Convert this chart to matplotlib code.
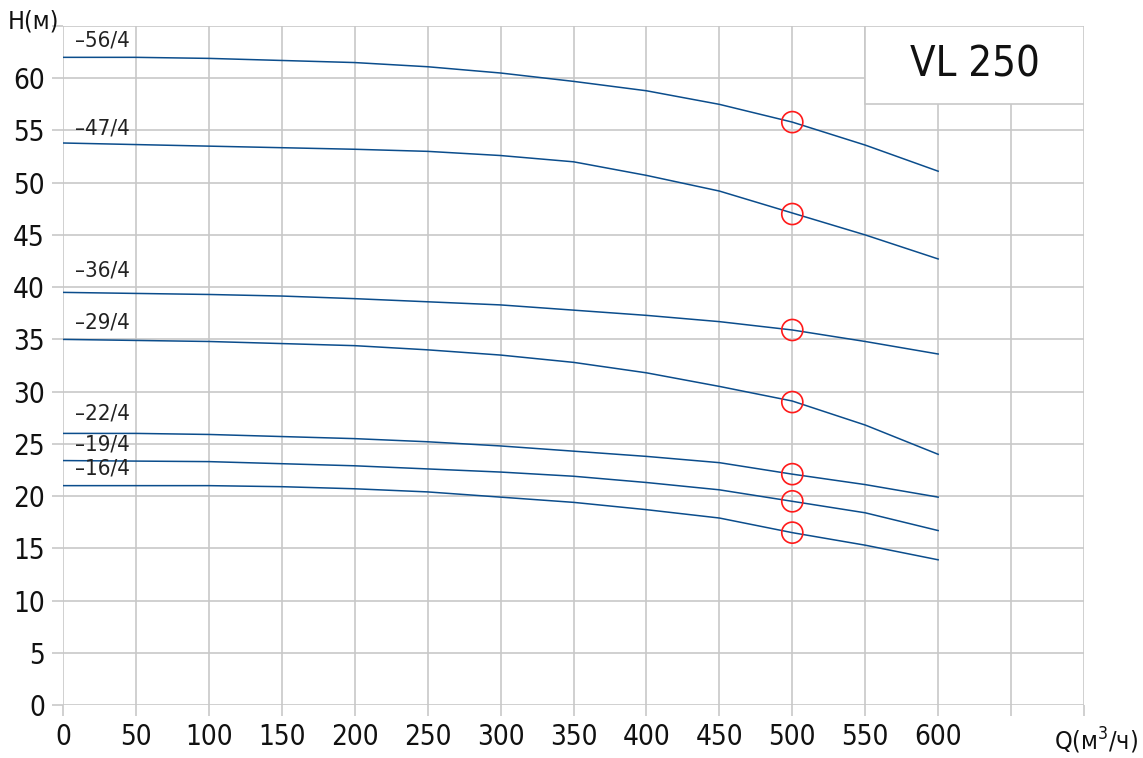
import matplotlib.pyplot as plt
from matplotlib.patches import Rectangle

plt.rcParams['font.family'] = ['DejaVu Sans']
plt.rcParams['font.stretch'] = 'condensed'
plt.rcParams['font.weight'] = 'light'

# flow, m3/h
q = [0, 50, 100, 150, 200, 250, 300, 350, 400, 450, 500, 550, 600]

# head curves, m
h_56 = [62.0, 62.0, 61.9, 61.7, 61.5, 61.1, 60.5, 59.7, 58.8, 57.5, 55.8, 53.6, 51.1]
h_47 = [53.8, 53.65, 53.5, 53.35, 53.2, 53.0, 52.6, 52.0, 50.7, 49.2, 47.1, 45.0, 42.7]
h_36 = [39.5, 39.4, 39.3, 39.15, 38.9, 38.6, 38.3, 37.8, 37.3, 36.7, 35.9, 34.8, 33.6]
h_29 = [35.0, 34.9, 34.8, 34.6, 34.4, 34.0, 33.5, 32.8, 31.8, 30.5, 29.1, 26.8, 24.0]
h_22 = [26.0, 26.0, 25.9, 25.7, 25.5, 25.2, 24.8, 24.3, 23.8, 23.2, 22.1, 21.1, 19.9]
h_19 = [23.4, 23.35, 23.3, 23.1, 22.9, 22.6, 22.3, 21.9, 21.3, 20.6, 19.5, 18.4, 16.7]
h_16 = [21.0, 21.0, 21.0, 20.9, 20.7, 20.4, 19.9, 19.4, 18.7, 17.9, 16.5, 15.3, 13.9]

curves = [h_56, h_47, h_36, h_29, h_22, h_19, h_16]
names = ['–56/4', '–47/4', '–36/4', '–29/4', '–22/4', '–19/4', '–16/4']
label_y = [63.6, 55.2, 41.6, 36.6, 27.9, 24.9, 22.6]

# duty points at Q = 500
duty_q = 500
duty_h = [55.8, 47.0, 35.9, 29.0, 22.1, 19.5, 16.5]

grid_c = '#c8c8c8'
line_c = '#0b4d8c'

fig = plt.figure(figsize=(11.43, 7.58), dpi=100)
ax = fig.add_axes([0.0551, 0.0699, 0.8933, 0.8958])

for h in curves:
    ax.plot(q, h, color=line_c, lw=1.1, zorder=3)

for name, y in zip(names, label_y):
    ax.text(8, y, name, fontsize=16, va='center', ha='left', color='#222222', zorder=4)

ax.scatter([duty_q] * len(duty_h), duty_h, s=230, facecolors='none',
           edgecolors='#ff1a1a', linewidths=1.2, zorder=5)

ax.set_xlim(0, 700)
ax.set_ylim(0, 65)
ax.set_xticks(range(0, 701, 50))
ax.set_xticklabels([str(v) if v <= 600 else '' for v in range(0, 701, 50)])
ax.set_yticks(range(0, 66, 5))
ax.set_yticklabels([str(v) if v <= 60 else '' for v in range(0, 66, 5)])
ax.grid(True, color=grid_c, lw=1.2)
ax.set_axisbelow(True)
for s in ax.spines.values():
    s.set_visible(False)
ax.tick_params(length=8, width=1.2, color=grid_c, labelsize=20, labelcolor='#111111', pad=5)

# model box
ax.add_patch(Rectangle((550, 57.5), 150, 7.5, facecolor='white', edgecolor=grid_c,
                       lw=1.2, zorder=2))
ax.text(625, 61.3, 'VL 250', fontsize=30, ha='center', va='center', color='#111111', zorder=4)

fig.text(0.007, 0.972, 'H(м)', fontsize=18, ha='left', va='center', color='#111111')
fig.text(0.922, 0.023, 'Q(м$^3$/ч)', fontsize=18, ha='left', va='center', color='#111111')

fig.savefig('out.png', dpi=100)
